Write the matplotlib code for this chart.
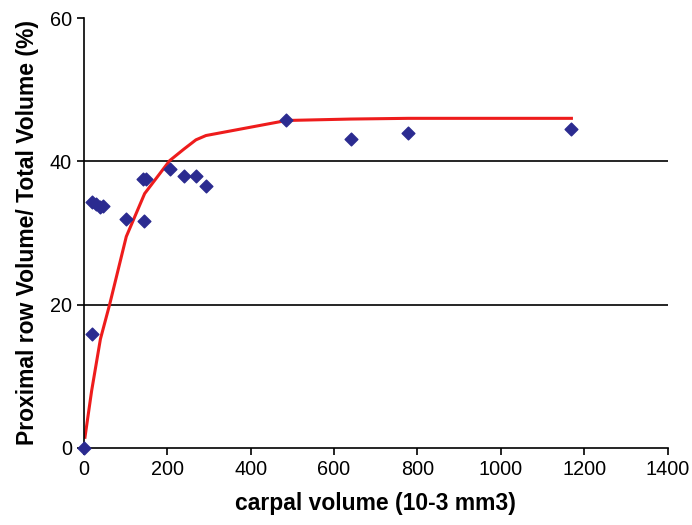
import matplotlib
matplotlib.use("Agg")
import matplotlib.pyplot as plt

# scatter data
data_x = [0, 19, 20, 30, 40, 45, 102, 144, 141, 149, 206, 240, 269, 293, 486, 640, 778, 1169]
data_y = [0, 15.9, 34.3, 34.0, 33.6, 33.8, 31.9, 31.7, 37.5, 37.6, 38.9, 37.9, 37.9, 36.6, 45.8, 43.1, 43.9, 44.5]

# fitted curve
fit_x = [3, 19, 40, 62, 102, 146, 206, 240, 269, 293, 486, 640, 778, 1169]
fit_y = [1.5, 8.0, 15.2, 20.0, 29.5, 35.5, 40.1, 41.7, 43.0, 43.6, 45.7, 45.9, 46.0, 46.0]

xticks = [0, 200, 400, 600, 800, 1000, 1200, 1400]
yticks = [0, 20, 40, 60]

plt.rcParams['font.family'] = ['Liberation Sans', 'DejaVu Sans']

fig = plt.figure(figsize=(6.92, 5.25), dpi=100)
ax = fig.add_axes([0.121, 0.1467, 0.844, 0.819])

for yv in [20, 40]:
    ax.axhline(yv, color='black', lw=1.2, zorder=1)

ax.plot(fit_x, fit_y, color='#ee1c1c', lw=2.2, zorder=2)
ax.scatter(data_x, data_y, marker='D', s=42, color='#2b2b90', zorder=3, clip_on=False)

ax.set_xlim(0, 1400)
ax.set_ylim(0, 60)
ax.set_xticks(xticks)
ax.set_yticks(yticks)
ax.tick_params(axis='both', labelsize=14.3, direction='out', length=5, width=1.2, color='black')
ax.tick_params(axis='x', pad=4)
for s in ['top', 'right']:
    ax.spines[s].set_visible(False)
for s in ['left', 'bottom']:
    ax.spines[s].set_linewidth(1.2)

ax.set_xlabel('carpal volume (10-3 mm3)', fontsize=16.5, fontweight='bold', labelpad=9)
ax.set_ylabel('Proximal row Volume/ Total Volume (%)', fontsize=16.5, fontweight='bold', labelpad=8)

fig.savefig('out.png', dpi=100)
